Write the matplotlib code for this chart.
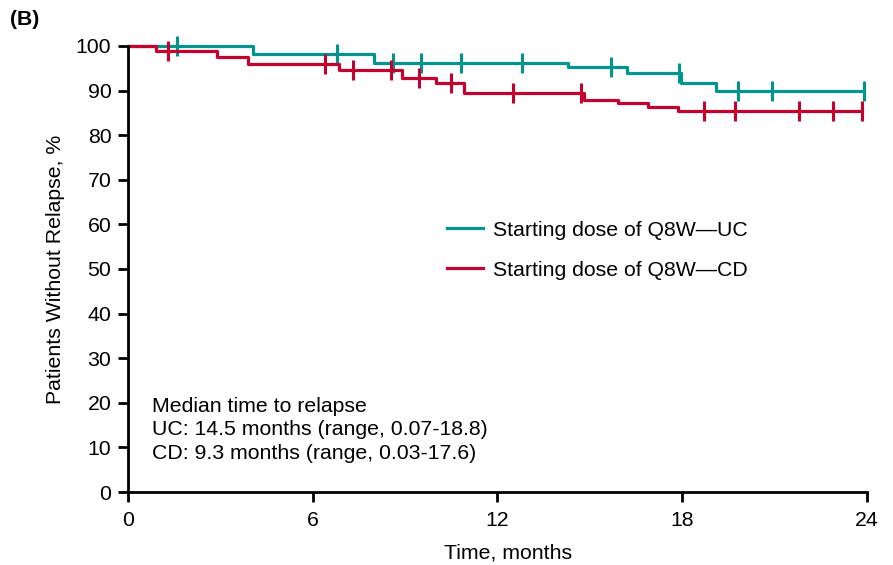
import numpy as np
import matplotlib.pyplot as plt

plt.rcParams['font.family'] = ['Liberation Sans', 'DejaVu Sans']

# Kaplan-Meier step data
uc_times = [0, 4.05, 8.0, 14.3, 16.2, 17.95, 19.1, 23.9]
uc_surv = [100, 98.2, 96.2, 95.3, 93.9, 91.7, 89.9, 89.9]
uc_censor = [1.6, 6.8, 8.6, 9.5, 10.8, 12.8, 15.7, 17.9, 19.8, 20.9, 23.9]

cd_times = [0, 0.9, 2.9, 3.9, 6.85, 8.9, 10.0, 10.9, 14.8, 15.9, 16.9, 17.85, 23.85]
cd_surv = [100, 98.9, 97.5, 96.0, 94.6, 92.8, 91.7, 89.5, 87.9, 87.2, 86.3, 85.4, 85.4]
cd_censor = [1.3, 6.4, 7.3, 8.55, 9.45, 10.5, 12.5, 14.7, 18.7, 19.7, 21.8, 22.9, 23.85]

uc_label = "Starting dose of Q8W\u2014UC"
cd_label = "Starting dose of Q8W\u2014CD"
uc_color = "#00948F"
cd_color = "#C4002F"

FS = 15.3


def surv_at(times, surv, t):
    idx = np.searchsorted(times, t, side='right') - 1
    return np.array(surv)[idx]


fig = plt.figure(figsize=(8.93, 5.65), dpi=100)
ax = fig.add_axes([0.1433, 0.1292, 0.8276, 0.7894])

for times, surv, cens, color, label in [
    (uc_times, uc_surv, uc_censor, uc_color, uc_label),
    (cd_times, cd_surv, cd_censor, cd_color, cd_label),
]:
    ax.step(times, surv, where='post', color=color, lw=2.3, label=label, clip_on=False)
    ax.plot(cens, surv_at(times, surv, cens), ls='none', marker='|', ms=14,
            mew=2.2, color=color, clip_on=False)

ax.set_xlim(0, 24)
ax.set_ylim(0, 100)
ax.set_xticks([0, 6, 12, 18, 24])
ax.set_yticks(range(0, 101, 10))
ax.spines['top'].set_visible(False)
ax.spines['right'].set_visible(False)
ax.spines['left'].set_linewidth(2)
ax.spines['bottom'].set_linewidth(2)
ax.tick_params(width=2, length=7, labelsize=FS, color='black')
ax.tick_params(axis='x', pad=7)
ax.tick_params(axis='y', pad=5)

ax.set_xlabel("Time, months", fontsize=FS, labelpad=8)
ax.xaxis.set_label_coords(0.514, -0.116)
ax.set_ylabel("Patients Without Relapse, %", fontsize=FS, labelpad=8)

ax.legend(loc='upper left', bbox_to_anchor=(0.406, 0.651), frameon=False,
          fontsize=FS, handlelength=1.7, handletextpad=0.45, labelspacing=0.98)

ax.text(0.032, 0.214, "Median time to relapse\nUC: 14.5 months (range, 0.07-18.8)\n"
        "CD: 9.3 months (range, 0.03-17.6)", transform=ax.transAxes,
        va='top', ha='left', fontsize=FS, linespacing=1.3)

fig.text(0.011, 0.965, "(B)", fontsize=FS, fontweight='bold', va='center')

fig.savefig("out.png", dpi=100)
